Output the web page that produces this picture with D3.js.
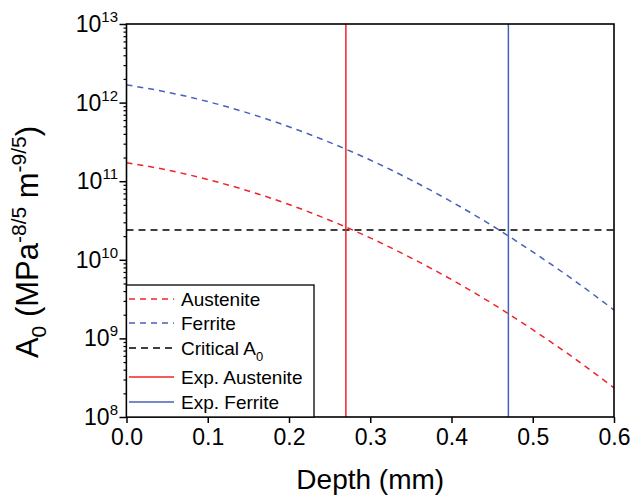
<!DOCTYPE html>
<html>
<head>
<meta charset="utf-8">
<script src="https://cdn.jsdelivr.net/npm/d3@7"></script>
<style>
  body { margin: 0; background: #fff; }
  svg { font-family: "Liberation Sans", Arial, sans-serif; }
</style>
</head>
<body>
<div id="chart"></div>
<script>
"use strict";

// depth (mm) sample points
var depth = [0, 0.05, 0.1, 0.15, 0.2, 0.25, 0.3, 0.35, 0.4, 0.45, 0.5, 0.55, 0.6];

// A0 (MPa^-8/5 m^-9/5)
var austenite = [1.72e11, 1.39e11, 1.05e11, 7.52e10, 5.05e10, 3.19e10, 1.90e10, 1.06e10, 5.61e9, 2.78e9, 1.29e9, 5.69e8, 2.35e8];
var ferrite = [1.68e12, 1.36e12, 1.03e12, 7.35e11, 4.93e11, 3.12e11, 1.86e11, 1.04e11, 5.48e10, 2.72e10, 1.26e10, 5.56e9, 2.30e9];
var criticalA0 = 2.4e10;
var expAusteniteDepth = 0.27;
var expFerriteDepth = 0.47;

var xTicks = [0, 0.1, 0.2, 0.3, 0.4, 0.5, 0.6];
var yExponents = [8, 9, 10, 11, 12, 13];

var RED = "#f0232a";
var BLUE = "#4662b8";

var W = 634, H = 496;
var margin = { left: 126.5, right: 20, top: 24, bottom: 79 };

var svg = d3.select("#chart").append("svg").attr("width", W).attr("height", H);

var x = d3.scaleLinear().domain([0, 0.6]).range([margin.left, W - margin.right]);
var y = d3.scaleLog().domain([1e8, 1e13]).range([H - margin.bottom, margin.top]);

//minor ticks on log axis
var minor = [];
yExponents.slice(0, -1).forEach(function(e) {
  for (var k = 2; k <= 9; k++) { minor.push(k * Math.pow(10, e)); }
});

svg.append("g")
  .attr("transform", "translate(" + margin.left + ",0)")
  .call(d3.axisLeft(y).tickValues(minor).tickSize(3).tickFormat(""))
  .call(function(g) { g.select(".domain").remove(); g.selectAll("line").attr("stroke-width", 1.2); });

var yAxis = svg.append("g")
  .attr("transform", "translate(" + margin.left + ",0)")
  .call(d3.axisLeft(y).tickValues(yExponents.map(function(e) { return Math.pow(10, e); })).tickSize(7).tickFormat(""));
yAxis.select(".domain").remove();
yAxis.selectAll("line").attr("stroke-width", 1.5);

var yLabels = svg.append("g").selectAll("text").data(yExponents).enter().append("text")
  .attr("x", 118)
  .attr("y", function(e) { return y(Math.pow(10, e)) + 8; })
  .attr("text-anchor", "end")
  .attr("font-size", 23);
yLabels.append("tspan").text("10");
yLabels.append("tspan").attr("dy", -10).attr("font-size", 15).text(function(e) { return e; });

var xAxis = svg.append("g")
  .attr("transform", "translate(0," + (H - margin.bottom) + ")")
  .call(d3.axisBottom(x).tickValues(xTicks).tickSize(6).tickPadding(6).tickFormat(d3.format(".1f")));
xAxis.select(".domain").remove();
xAxis.selectAll("line").attr("stroke-width", 1.5);
xAxis.selectAll("text").attr("font-size", 23).attr("fill", "#000").attr("font-family", "Liberation Sans, Arial, sans-serif");

var line = d3.line()
  .x(function(d) { return x(d[0]); })
  .y(function(d) { return y(d[1]); })
  .curve(d3.curveMonotoneX);

var plot = svg.append("g");

plot.append("line")
  .attr("x1", x(0)).attr("x2", x(0.6))
  .attr("y1", y(criticalA0)).attr("y2", y(criticalA0))
  .attr("stroke", "#000").attr("stroke-width", 1.5).attr("stroke-dasharray", "7,5");

plot.append("path").datum(d3.zip(depth, austenite))
  .attr("d", line).attr("fill", "none")
  .attr("stroke", RED).attr("stroke-width", 1.5).attr("stroke-dasharray", "6,5");

plot.append("path").datum(d3.zip(depth, ferrite))
  .attr("d", line).attr("fill", "none")
  .attr("stroke", BLUE).attr("stroke-width", 1.5).attr("stroke-dasharray", "6,5");

plot.append("line")
  .attr("x1", x(expAusteniteDepth)).attr("x2", x(expAusteniteDepth))
  .attr("y1", y(1e8)).attr("y2", y(1e13))
  .attr("stroke", RED).attr("stroke-width", 1.5);

plot.append("line")
  .attr("x1", x(expFerriteDepth)).attr("x2", x(expFerriteDepth))
  .attr("y1", y(1e8)).attr("y2", y(1e13))
  .attr("stroke", BLUE).attr("stroke-width", 1.5);

// frame
svg.append("rect")
  .attr("x", x(0)).attr("y", y(1e13))
  .attr("width", x(0.6) - x(0)).attr("height", y(1e8) - y(1e13))
  .attr("fill", "none").attr("stroke", "#000").attr("stroke-width", 1.6);

// legend
var legendItems = [
  { label: "Austenite", color: RED, dash: "6,5", cy: 299 },
  { label: "Ferrite", color: BLUE, dash: "6,5", cy: 323 },
  { label: "Critical A", sub: "0", color: "#000", dash: "7,5", cy: 348 },
  { label: "Exp. Austenite", color: RED, dash: null, cy: 377 },
  { label: "Exp. Ferrite", color: BLUE, dash: null, cy: 402 }
];

var legend = svg.append("g");
legend.append("rect")
  .attr("x", x(0)).attr("y", 285)
  .attr("width", 314 - x(0)).attr("height", y(1e8) - 285)
  .attr("fill", "#fff").attr("stroke", "#000").attr("stroke-width", 1.3);

var items = legend.selectAll(".item").data(legendItems).enter().append("g").classed("item", true);
items.append("line")
  .attr("x1", 129).attr("x2", 174)
  .attr("y1", function(d) { return d.cy; }).attr("y2", function(d) { return d.cy; })
  .attr("stroke", function(d) { return d.color; })
  .attr("stroke-width", 1.5)
  .attr("stroke-dasharray", function(d) { return d.dash; });
var itemText = items.append("text")
  .attr("x", 181).attr("y", function(d) { return d.cy + 7; })
  .attr("font-size", 19);
itemText.append("tspan").text(function(d) { return d.label; });
itemText.filter(function(d) { return d.sub; }).append("tspan")
  .attr("dy", 6).attr("font-size", 13).text(function(d) { return d.sub; });

// axis titles
svg.append("text")
  .attr("x", x(0.3)).attr("y", 489)
  .attr("text-anchor", "middle").attr("font-size", 28)
  .text("Depth (mm)");

var yTitle = svg.append("text")
  .attr("transform", "translate(38,242) rotate(-90)")
  .attr("text-anchor", "middle").attr("font-size", 31);
yTitle.append("tspan").text("A");
yTitle.append("tspan").attr("dy", 8).attr("font-size", 21).text("0");
yTitle.append("tspan").attr("dy", -8).text(" (MPa");
yTitle.append("tspan").attr("dy", -12).attr("font-size", 21).text("-8/5");
yTitle.append("tspan").attr("dy", 12).text(" m");
yTitle.append("tspan").attr("dy", -12).attr("font-size", 21).text("-9/5");
yTitle.append("tspan").attr("dy", 12).text(")");
</script>
</body>
</html>
